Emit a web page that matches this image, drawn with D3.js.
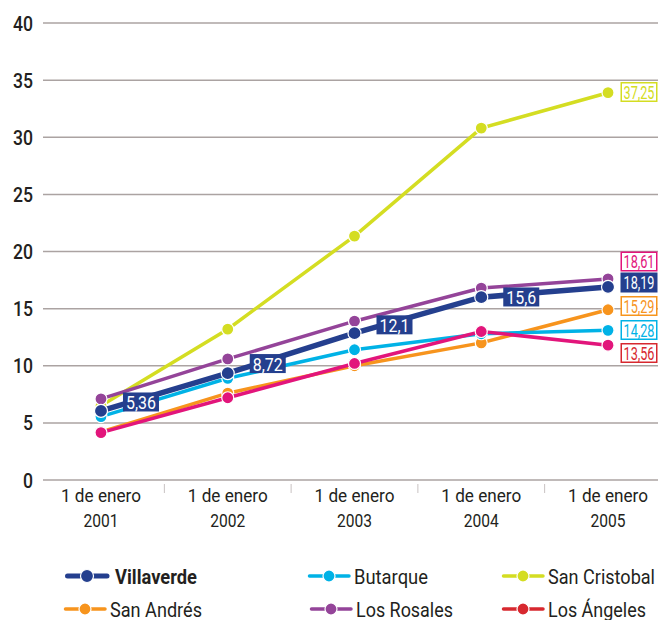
<!DOCTYPE html>
<html>
  <head>
    <meta charset="utf-8">
    <style>
      body { margin: 0; background: #fff; }
      text { font-family: "Roboto", "Liberation Sans", sans-serif; fill: #231f20; }
    </style>
    <script src="https://d3js.org/d3.v7.min.js"></script>
  </head>

  <body>
    <svg width="658" height="620"></svg>

    <script>
      var years = ["2001", "2002", "2003", "2004", "2005"];
      var yTicks = [0, 5, 10, 15, 20, 25, 30, 35, 40];

      var seriesNames = ["San Cristobal", "San Andrés", "Butarque", "Los Ángeles", "Los Rosales", "Villaverde"];
      var sanCristobal = [6.5, 13.2, 21.35, 30.8, 33.9];
      var sanAndres = [4.2, 7.6, 10.0, 12.0, 14.9];
      var butarque = [5.55, 8.9, 11.4, 12.8, 13.1];
      var losAngeles = [4.15, 7.2, 10.2, 13.0, 11.8];
      var losRosales = [7.1, 10.6, 13.9, 16.8, 17.6];
      var villaverde = [6.05, 9.35, 12.85, 16.0, 16.9];

      var villaverdeLabels = ["5,36", "8,72", "12,1", "15,6"];
      var endLabels = ["37,25", "18,61", "18,19", "15,29", "14,28", "13,56"];

      var legendNames = ["Villaverde", "Butarque", "San Cristobal", "San Andrés", "Los Rosales", "Los Ángeles"];

      var svg = d3.select("svg");

      var x = d3.scaleBand().domain(years).range([37.6, 671.4]);
      var y = d3.scaleLinear().domain([0, 40]).range([480, 23]);
      function cx(d) { return x(d) + x.bandwidth() / 2; }

      // narrow text, like a condensed face
      function squeeze(sel, w) {
        sel.attr("textLength", w).attr("lengthAdjust", "spacingAndGlyphs");
      }

      // grid
      var grid = svg.append("g");
      grid.selectAll("line")
        .data(yTicks)
        .enter()
        .append("line")
        .attr("x1", 43)
        .attr("x2", 658)
        .attr("y1", function (d) { return y(d); })
        .attr("y2", function (d) { return y(d); })
        .attr("stroke", "#aba3a2")
        .attr("stroke-width", 1.5);

      grid.selectAll("text")
        .data(yTicks)
        .enter()
        .append("text")
        .attr("x", 33)
        .attr("y", function (d) { return y(d) + 7.5; })
        .attr("text-anchor", "end")
        .attr("font-size", 21)
        .attr("font-weight", 500)
        .text(function (d) { return d; })
        .call(squeeze, function (d) { return String(d).length * 10; });

      // x separators + labels
      svg.append("g").selectAll("line")
        .data(years.slice(1))
        .enter()
        .append("line")
        .attr("x1", function (d) { return x(d); })
        .attr("x2", function (d) { return x(d); })
        .attr("y1", 484)
        .attr("y2", 493)
        .attr("stroke", "#c8c2c2")
        .attr("stroke-width", 1);

      var xg = svg.append("g");
      xg.selectAll("text.l1")
        .data(years)
        .enter()
        .append("text")
        .attr("class", "l1")
        .attr("x", cx)
        .attr("y", 502)
        .attr("text-anchor", "middle")
        .attr("font-size", 19)
        .text("1 de enero")
        .call(squeeze, 80);
      xg.selectAll("text.l2")
        .data(years)
        .enter()
        .append("text")
        .attr("class", "l2")
        .attr("x", cx)
        .attr("y", 527)
        .attr("text-anchor", "middle")
        .attr("font-size", 19)
        .text(function (d) { return d; })
        .call(squeeze, 35);

      // series
      var seriesData = [sanCristobal, sanAndres, butarque, losAngeles, losRosales, villaverde];
      var colors = {
        "Villaverde": "#243f8e",
        "Butarque": "#00b2e6",
        "San Cristobal": "#d4dd22",
        "San Andrés": "#f7941d",
        "Los Rosales": "#944499",
        "Los Ángeles": "#e2157b"
      };
      var line = d3.line()
        .x(function (d, i) { return cx(years[i]); })
        .y(function (d) { return y(d); });

      seriesNames.forEach(function (name, k) {
        var vals = seriesData[k];
        var thick = name === "Villaverde";
        var g = svg.append("g");
        g.append("path")
          .attr("d", line(vals))
          .attr("fill", "none")
          .attr("stroke", colors[name])
          .attr("stroke-width", thick ? 5.5 : 3.5);
        g.selectAll("circle")
          .data(vals)
          .enter()
          .append("circle")
          .attr("cx", function (d, i) { return cx(years[i]); })
          .attr("cy", function (d) { return y(d); })
          .attr("r", thick ? 6.5 : 6)
          .attr("fill", colors[name])
          .attr("stroke", "#fff")
          .attr("stroke-width", 1.2);
      });

      // Villaverde inline labels, sitting on the line a bit right of each point
      var inl = svg.append("g").selectAll("g")
        .data(villaverdeLabels)
        .enter()
        .append("g")
        .attr("transform", function (d, i) {
          var x1 = cx(years[i]), x2 = cx(years[i + 1]);
          var t = 40 / (x2 - x1);
          var yc = y(villaverde[i]) + (y(villaverde[i + 1]) - y(villaverde[i])) * t + 3;
          return "translate(" + (x1 + 40 - 18) + "," + (yc - 9.5) + ")";
        });
      inl.append("rect")
        .attr("width", 36)
        .attr("height", 19)
        .attr("fill", "#243f8e");
      inl.append("text")
        .attr("x", 18)
        .attr("y", 16.5)
        .attr("text-anchor", "middle")
        .attr("font-size", 19)
        .style("fill", "#fff")
        .text(function (d) { return d; })
        .call(squeeze, 30);

      // end labels
      var endColors = ["#d4dd22", "#e2157b", "#243f8e", "#f7941d", "#00b2e6", "#d7282f"];
      var endY = [92, 261.5, 282.5, 306, 330, 353];
      var el = svg.append("g").selectAll("g")
        .data(endLabels)
        .enter()
        .append("g")
        .attr("transform", function (d, i) { return "translate(620.5," + (endY[i] - 10) + ")"; });
      el.append("rect")
        .attr("x", 0.75)
        .attr("y", 0.75)
        .attr("width", 35.5)
        .attr("height", 18.5)
        .attr("fill", function (d, i) { return i === 2 ? endColors[i] : "#fff"; })
        .attr("stroke", function (d, i) { return endColors[i]; })
        .attr("stroke-width", 1.5);
      el.append("text")
        .attr("x", 18.5)
        .attr("y", 16.5)
        .attr("text-anchor", "middle")
        .attr("font-size", 19)
        .style("fill", function (d, i) { return i === 2 ? "#fff" : endColors[i]; })
        .text(function (d) { return d; })
        .call(squeeze, 31);

      // legend
      var legendColors = ["#243f8e", "#00b2e6", "#d4dd22", "#f7941d", "#944499", "#d7282f"];
      var legX = [66, 308, 502, 64, 310, 502];
      var legY = [576, 576, 576, 609, 609, 609];
      var legW = [82, 74, 107, 92, 97, 98];
      var lg = svg.append("g").selectAll("g")
        .data(legendNames)
        .enter()
        .append("g")
        .attr("transform", function (d, i) { return "translate(" + legX[i] + "," + legY[i] + ")"; });
      lg.append("line")
        .attr("x1", 1.5)
        .attr("x2", 41)
        .attr("stroke", function (d, i) { return legendColors[i]; })
        .attr("stroke-width", function (d, i) { return i === 0 ? 5 : 3.5; })
        .attr("stroke-linecap", "round");
      lg.append("circle")
        .attr("cx", 21)
        .attr("r", function (d, i) { return i === 0 ? 6.5 : 6; })
        .attr("fill", function (d, i) { return legendColors[i]; })
        .attr("stroke", "#fff")
        .attr("stroke-width", 1.2);
      lg.append("text")
        .attr("x", function (d, i) { return i === 0 ? 49 : 46; })
        .attr("y", 7.5)
        .attr("font-size", 21)
        .attr("font-weight", function (d, i) { return i === 0 ? "bold" : "normal"; })
        .text(function (d) { return d; })
        .call(squeeze, function (d, i) { return legW[i]; });
    </script>
  </body>
</html>
